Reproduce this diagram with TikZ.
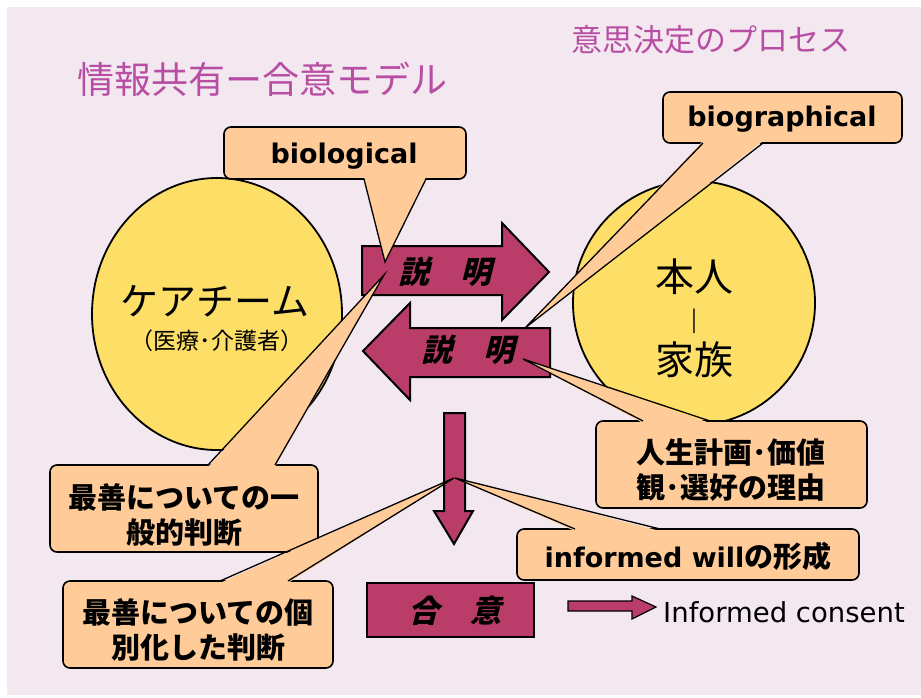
\documentclass[tikz,border=0pt]{standalone}
\usepackage{fontspec}
\newfontfamily\jp{Noto Sans CJK JP}
\newfontfamily\jpsl{Noto Sans CJK JP}[FakeSlant=0.25]
\newfontfamily\dv{DejaVu Sans}
\definecolor{bgpink}{RGB}{243,231,240}
\definecolor{ttl}{RGB}{184,78,163}
\definecolor{cyellow}{RGB}{253,222,102}
\definecolor{amag}{RGB}{185,60,105}
\definecolor{peach}{RGB}{255,204,153}
\tikzset{
  circ/.style={fill=cyellow, draw=black, line width=1.8pt},
  barrow/.style={fill=amag, draw=black, line width=2pt, line join=miter},
  cbox/.style={fill=peach, draw=black, line width=1.6pt, rounded corners=7pt},
  cptr/.style={draw=black, line width=1.3pt, line join=miter},
  txt/.style={inner sep=0pt, align=center},
  ttlfont/.style={txt, text=ttl},
  ctext/.style={txt, font=\jp\bfseries\fontsize{29}{35}\selectfont},
  ltext/.style={txt, font=\dv\bfseries\fontsize{27}{30}\selectfont},
  atext/.style={txt, font=\jpsl\bfseries\fontsize{31}{34}\selectfont}
}
% #1,#2,#3,#4 box; #5,#6 pointer base x; #7 base y; #8 inward offset; #9 tip
\newcommand\mycallout[9]{%
  \filldraw[cbox] (#1,#2) rectangle (#3,#4);
  \fill[peach] (#5,#7+#8) -- (#9) -- (#6,#7+#8) -- cycle;
  \draw[cptr] (#5,#7) -- (#9) -- (#6,#7);}
\begin{document}
\begin{tikzpicture}[x=1pt,y=-1pt]
\useasboundingbox (0,0) rectangle (921,697);
\fill[white] (0,0) rectangle (921,697);
\fill[bgpink] (7,7) rectangle (921,695);

% titles
\node[ttlfont, font=\jp\fontsize{37}{40}\selectfont] (title) at (262,79) {情報共有ー合意モデル};
\node[ttlfont, font=\jp\fontsize{31}{34}\selectfont] (subtitle) at (711,40) {意思決定のプロセス};

% circles
\draw[circ] (217,314) ellipse [x radius=125, y radius=136];
\draw[circ] (694,303) ellipse [x radius=121, y radius=122];
\node[txt, font=\jp\fontsize{38}{40}\selectfont] (team) at (215,301) {ケアチーム};
\node[txt, font=\jp\fontsize{23}{26}\selectfont] (teamsub) at (217,341) {（医療･介護者）};
\node[txt, font=\jp\fontsize{39}{42}\selectfont] (self) at (694,277) {本人};
\node[txt, font=\jp\fontsize{22}{24}\selectfont] (bar) at (694,321) {|};
\node[txt, font=\jp\fontsize{39}{42}\selectfont] (family) at (694,360) {家族};

% block arrows
\draw[barrow] (362,246) -- (502,246) -- (502,223) -- (549,272) -- (502,320) -- (502,295) -- (362,295) -- cycle;
\draw[barrow] (550,328) -- (410,328) -- (410,303) -- (363,351) -- (410,400) -- (410,377) -- (550,377) -- cycle;
\draw[barrow] (444,413) -- (465,413) -- (465,511) -- (473,511) -- (454,544) -- (434,511) -- (444,511) -- cycle;
\draw[barrow] (367,583) rectangle (534,637);
\draw[barrow, line width=1.2pt] (568,601) -- (632,601) -- (632,596) -- (656,607) -- (632,619) -- (632,611) -- (568,611) -- cycle;
\node[atext] (expl1) at (445,272) {説　明};
\node[atext] (expl2) at (468,350) {説　明};
\node[atext] (agree) at (455,611) {合　意};
\node[txt, font=\dv\fontsize{27.5}{30}\selectfont, anchor=west] (ic) at (663,612) {Informed consent};

% callout tips
\coordinate (tipA) at (385,262);
\coordinate (tipB) at (525,328);
\coordinate (tipC) at (384,275);
\coordinate (tipD) at (454,478);
\coordinate (tipE) at (523,359);
\coordinate (tipF) at (455,478);

% callouts
\mycallout{224}{127}{466}{179}{364}{426}{179}{-2}{tipA}
\node[ltext] (bio) at (344,156) {biological};
\mycallout{663}{92}{902}{143}{703}{763}{143}{-2}{tipB}
\node[ltext] (biog) at (782,119) {biographical};
\mycallout{50}{465}{318}{552}{208}{275}{465}{2}{tipC}
\node[ctext] (general) at (184,515) {最善についての一\\般的判断};
\mycallout{63}{581}{333}{668}{220}{288}{581}{2}{tipD}
\node[ctext] (indiv) at (198,630) {最善についての個\\別化した判断};
\mycallout{596}{421}{867}{508}{643}{710}{421}{2}{tipE}
\node[ctext] (values) at (731,470) {人生計画･価値\\観･選好の理由};
\mycallout{517}{529}{859}{580}{575}{660}{529}{2}{tipF}
\node[txt] (will) at (688,556) {{\dv\bfseries\fontsize{27}{30}\selectfont informed will}{\jp\bfseries\fontsize{29}{30}\selectfont の形成}};
\end{tikzpicture}
\end{document}
